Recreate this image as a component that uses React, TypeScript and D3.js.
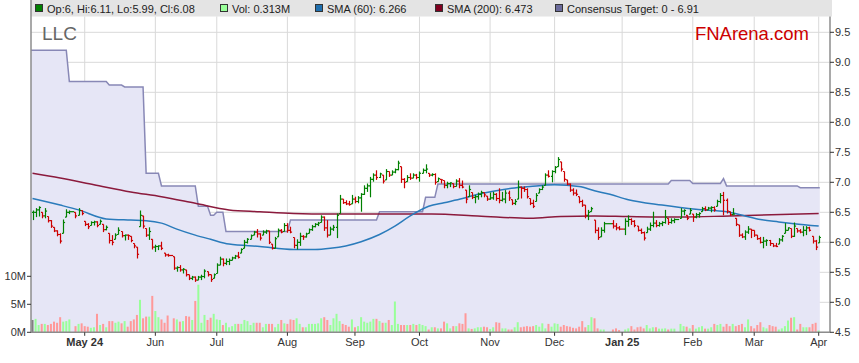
import * as d3 from 'd3';

// calendar: weekdays from first to last session, minus ASX holidays
const firstDay = new Date(2024, 3, 8);
const lastDay = new Date(2025, 3, 1);
const holidays = ['2024-04-25', '2024-06-10', '2024-12-25', '2024-12-26', '2025-01-01', '2025-01-27'];

// daily bars, one entry per trading session (Apr 2024 .. Apr 1 2025)
const highs = [
  // Apr
  6.53, 6.57, 6.6, 6.5, 6.57, 6.43, 6.37, 6.25, 6.2, 6.15, 6.38, 6.55, 6.53, 6.5, 6.57, 6.53,
  // May
  6.35, 6.32, 6.35, 6.36, 6.35, 6.38, 6.3, 6.28, 6.15, 6.12, 6.15, 6.25, 6.18, 6.13, 6.13, 6.1, 5.98, 5.92, 6.53, 6.44, 6.23, 6.25, 6.05,
  // Jun
  5.96, 5.95, 6.01, 5.82, 5.81, 5.76, 5.6, 5.62, 5.57, 5.54, 5.46, 5.44, 5.43, 5.44, 5.46, 5.55, 5.51, 5.46, 5.48,
  // Jul
  5.65, 5.76, 5.73, 5.73, 5.73, 5.76, 5.79, 5.84, 5.9, 6.04, 6.07, 6.13, 6.19, 6.22, 6.15, 6.2, 6.21, 6.19, 5.97, 6.09, 6.23, 6.22, 6.32,
  // Aug
  6.32, 6.26, 6.08, 6.05, 6.16, 6.12, 6.16, 6.23, 6.29, 6.32, 6.34, 6.45, 6.43, 6.37, 6.26, 6.29, 6.48, 6.79, 6.72, 6.7, 6.69, 6.79,
  // Sep
  6.76, 6.77, 6.82, 6.95, 6.98, 7.09, 7.15, 7.2, 7.16, 7.12, 7.22, 7.18, 7.2, 7.23, 7.36, 7.26, 7.07, 7.12, 7.15, 7.15, 7.14,
  // Oct
  7.18, 7.23, 7.3, 7.15, 7.15, 7.15, 7.08, 7.05, 7.03, 7.01, 7.0, 6.98, 7.05, 7.07, 7.03, 6.87, 6.95, 6.83, 6.79, 6.83, 6.86, 6.83, 6.77,
  // Nov
  6.83, 6.84, 6.82, 6.9, 6.84, 6.87, 6.86, 6.71, 6.72, 7.03, 6.93, 6.93, 6.9, 6.73, 6.71, 6.82, 6.9, 6.95, 7.15, 7.2, 7.2,
  // Dec
  7.27, 7.42, 7.34, 7.18, 7.04, 6.98, 6.9, 6.88, 6.76, 6.71, 6.62, 6.54, 6.59, 6.37, 6.25, 6.25, 6.34, 6.37, 6.32, 6.27,
  // Jan
  6.4, 6.45, 6.4, 6.37, 6.27, 6.23, 6.18, 6.26, 6.33, 6.51, 6.37, 6.34, 6.35, 6.54, 6.4, 6.4, 6.4, 6.57, 6.55, 6.45, 6.57,
  // Feb
  6.47, 6.49, 6.5, 6.59, 6.6, 6.59, 6.6, 6.6, 6.71, 6.82, 6.84, 6.73, 6.51, 6.57, 6.4, 6.29, 6.15, 6.2, 6.27, 6.22,
  // Mar
  6.2, 6.12, 6.09, 6.09, 6.05, 6.04, 5.98, 5.99, 6.07, 6.12, 6.32, 6.25, 6.23, 6.33, 6.23, 6.22, 6.27, 6.27, 6.26, 6.1, 6.04,
  // Apr
  6.11,
];

const lows = [
  6.37, 6.42, 6.43, 6.4, 6.4, 6.33, 6.24, 6.17, 6.1, 5.98, 6.15, 6.42, 6.47, 6.4, 6.45, 6.45,
  6.27, 6.22, 6.28, 6.28, 6.25, 6.3, 6.17, 6.2, 5.98, 5.95, 6.05, 6.13, 6.08, 6.03, 6.04, 6.0, 5.9, 5.73, 6.26, 6.23, 6.09, 6.04, 5.88,
  5.84, 5.87, 5.87, 5.76, 5.76, 5.54, 5.51, 5.51, 5.48, 5.43, 5.37, 5.37, 5.34, 5.37, 5.37, 5.4, 5.43, 5.34, 5.4,
  5.48, 5.62, 5.6, 5.62, 5.62, 5.7, 5.72, 5.73, 5.82, 5.9, 5.98, 6.05, 6.12, 6.08, 6.03, 6.12, 6.14, 5.97, 5.88, 5.9, 6.09, 6.15, 6.18,
  6.16, 6.15, 5.9, 5.88, 5.94, 6.04, 6.08, 6.15, 6.19, 6.25, 6.27, 6.33, 6.19, 6.08, 6.12, 6.19, 6.07, 6.48, 6.64, 6.62, 6.61, 6.64,
  6.65, 6.65, 6.51, 6.79, 6.84, 6.75, 7.01, 7.04, 7.07, 6.98, 7.04, 7.09, 7.12, 7.15, 7.2, 6.99, 6.9, 7.01, 7.04, 7.07, 7.05,
  7.01, 7.15, 7.15, 7.09, 7.1, 6.96, 7.01, 6.98, 6.9, 6.9, 6.92, 6.9, 6.93, 6.9, 6.9, 6.65, 6.76, 6.72, 6.65, 6.71, 6.75, 6.75, 6.69,
  6.71, 6.71, 6.69, 6.65, 6.68, 6.65, 6.69, 6.62, 6.62, 6.72, 6.73, 6.84, 6.73, 6.62, 6.57, 6.68, 6.82, 6.87, 6.95, 7.08, 7.0,
  7.15, 7.26, 7.18, 7.01, 6.95, 6.84, 6.78, 6.77, 6.65, 6.59, 6.4, 6.37, 6.51, 6.15, 6.04, 6.09, 6.16, 6.23, 6.2, 6.2,
  6.12, 6.26, 6.29, 6.25, 6.18, 6.14, 6.03, 6.16, 6.19, 6.25, 6.25, 6.26, 6.27, 6.31, 6.29, 6.31, 6.32, 6.4, 6.45, 6.37, 6.47,
  6.34, 6.4, 6.41, 6.51, 6.52, 6.54, 6.5, 6.51, 6.6, 6.65, 6.45, 6.48, 6.44, 6.46, 6.27, 6.09, 6.07, 6.04, 6.14, 6.07,
  6.09, 6.04, 5.98, 5.9, 5.94, 5.94, 5.92, 5.92, 5.97, 6.01, 6.15, 6.2, 6.07, 6.09, 6.16, 6.15, 6.1, 6.12, 6.18, 5.98, 5.87,
  5.99,
];

const closes = [
  6.5, 6.54, 6.58, 6.44, 6.52, 6.36, 6.27, 6.19, 6.13, 6.02, 6.33, 6.5, 6.51, 6.44, 6.53, 6.48,
  6.3, 6.26, 6.33, 6.34, 6.28, 6.35, 6.21, 6.25, 6.03, 6.0, 6.12, 6.2, 6.11, 6.12, 6.11, 6.03, 5.94, 5.8, 6.45, 6.27, 6.12, 6.18, 5.92,
  5.93, 5.94, 5.9, 5.79, 5.78, 5.57, 5.58, 5.54, 5.55, 5.46, 5.4, 5.42, 5.37, 5.42, 5.43, 5.52, 5.46, 5.38, 5.46,
  5.62, 5.72, 5.65, 5.68, 5.7, 5.74, 5.77, 5.75, 5.88, 6.0, 6.05, 6.11, 6.17, 6.14, 6.07, 6.17, 6.19, 6.0, 5.9, 6.06, 6.2, 6.17, 6.28,
  6.2, 6.17, 5.95, 6.0, 6.1, 6.09, 6.14, 6.21, 6.26, 6.3, 6.32, 6.42, 6.24, 6.12, 6.22, 6.25, 6.45, 6.72, 6.66, 6.64, 6.63, 6.72,
  6.68, 6.74, 6.8, 6.9, 6.94, 7.05, 7.12, 7.08, 7.14, 7.02, 7.18, 7.12, 7.17, 7.21, 7.32, 7.05, 7.0, 7.08, 7.07, 7.12, 7.08,
  7.15, 7.2, 7.22, 7.12, 7.13, 7.0, 7.06, 7.04, 6.95, 6.98, 6.99, 6.93, 7.02, 6.95, 6.92, 6.72, 6.88, 6.75, 6.76, 6.8, 6.83, 6.79, 6.72,
  6.74, 6.8, 6.73, 6.7, 6.72, 6.82, 6.74, 6.65, 6.68, 6.92, 6.9, 6.88, 6.76, 6.65, 6.6, 6.78, 6.88, 6.92, 7.12, 7.1, 7.18,
  7.25, 7.38, 7.22, 7.05, 6.97, 6.87, 6.82, 6.8, 6.68, 6.62, 6.45, 6.5, 6.56, 6.2, 6.08, 6.2, 6.31, 6.27, 6.24, 6.22,
  6.35, 6.38, 6.35, 6.28, 6.2, 6.16, 6.07, 6.22, 6.28, 6.32, 6.28, 6.31, 6.33, 6.42, 6.33, 6.36, 6.38, 6.52, 6.53, 6.4, 6.53,
  6.42, 6.46, 6.48, 6.56, 6.54, 6.57, 6.58, 6.54, 6.68, 6.78, 6.7, 6.52, 6.46, 6.47, 6.3, 6.12, 6.09, 6.17, 6.22, 6.2,
  6.12, 6.06, 6.0, 6.02, 6.03, 5.98, 5.94, 5.93, 6.04, 6.1, 6.2, 6.24, 6.1, 6.27, 6.19, 6.17, 6.2, 6.24, 6.2, 6.02, 5.92,
  6.08,
];

// volume in millions of shares
const volumes = [
  2.2, 2.4, 1.3, 1.5, 1.5, 1.3, 1.5, 1.9, 1.7, 2.7, 1.9, 2.0, 2.3, 1.1, 1.5, 1.6,
  1.1, 1.0, 0.8, 0.9, 3.3, 1.3, 1.5, 0.9, 2.0, 2.0, 1.7, 1.9, 1.6, 2.0, 1.0, 2.0, 2.3, 3.1, 5.8, 2.5, 2.8, 2.8, 6.5,
  3.8, 2.7, 2.3, 1.7, 3.0, 2.5, 2.3, 1.9, 2.0, 2.9, 2.8, 2.2, 5.6, 8.5, 1.7, 3.1, 2.2, 2.6, 3.3,
  2.3, 2.2, 1.3, 1.7, 0.9, 1.1, 1.5, 1.5, 1.5, 2.2, 2.0, 1.3, 1.7, 1.7, 1.7, 0.9, 1.5, 1.5, 1.5, 0.9, 1.5, 2.2, 1.6,
  1.5, 2.3, 2.2, 2.5, 1.5, 0.9, 0.9, 1.5, 1.5, 1.5, 1.6, 2.5, 2.7, 2.2, 1.3, 2.5, 3.3, 2.0, 1.5, 1.3, 1.0, 2.3,
  0.9, 1.1, 2.7, 1.9, 1.7, 1.9, 2.4, 2.4, 2.0, 1.7, 1.7, 2.2, 1.3, 5.5, 1.5, 1.3, 1.3, 1.3, 1.3, 1.5, 1.3,
  1.5, 1.3, 1.1, 0.5, 0.9, 0.9, 0.7, 0.7, 1.9, 1.6, 0.7, 1.1, 1.1, 1.6, 1.5, 3.4, 0.7, 0.6, 0.7, 0.9, 0.9, 1.0, 0.9,
  0.6, 0.9, 1.8, 1.7, 0.7, 0.7, 0.5, 0.5, 0.9, 1.8, 0.9, 1.0, 1.1, 1.0, 1.1, 1.3, 1.0, 1.6, 0.7, 1.5, 1.0,
  1.6, 1.5, 1.0, 1.3, 1.1, 1.0, 0.8, 0.7, 1.0, 2.0, 0.9, 1.3, 2.7, 2.5, 0.7, 0.5, 0.5, 0.5, 0.7, 0.4,
  0.5, 0.7, 1.1, 0.5, 0.9, 1.0, 0.7, 1.3, 0.7, 0.9, 0.9, 0.65, 0.65, 0.7, 0.5, 0.65, 0.65, 1.5, 1.1, 1.0, 0.7,
  1.3, 0.65, 0.9, 1.1, 0.65, 0.65, 0.9, 1.5, 1.3, 1.5, 1.0, 1.5, 1.1, 1.5, 1.1, 1.3, 1.5, 0.9, 2.3, 1.1,
  0.7, 1.3, 1.8, 0.9, 0.7, 1.3, 1.1, 1.0, 0.5, 0.7, 1.1, 2.1, 2.6, 2.7, 0.5, 1.5, 0.9, 0.9, 0.9, 1.5, 1.7,
  0.313,
];

// moving averages, keyed by weekday number from the first day
const sma60Days = [0, 9, 15, 24, 32, 37, 42, 47, 53, 58, 64, 74, 85, 92, 97, 102, 107, 113, 118, 123, 129, 134, 140, 145, 151, 156, 162, 170, 178, 183, 188, 194, 205, 216, 226, 232, 237, 243, 248, 256];
const sma60Values = [6.73, 6.62, 6.54, 6.39, 6.37, 6.36, 6.32, 6.22, 6.12, 6.05, 5.97, 5.93, 5.88, 5.88, 5.9, 5.94, 6.01, 6.13, 6.27, 6.44, 6.6, 6.66, 6.73, 6.8, 6.86, 6.9, 6.93, 6.96, 6.93, 6.86, 6.8, 6.71, 6.62, 6.55, 6.51, 6.44, 6.38, 6.34, 6.31, 6.27];
const sma200Days = [0, 9, 20, 32, 42, 53, 64, 74, 85, 97, 130, 145, 162, 172, 183, 194, 211, 227, 256];
const sma200Values = [7.15, 7.07, 6.96, 6.84, 6.76, 6.65, 6.54, 6.51, 6.48, 6.47, 6.47, 6.44, 6.4, 6.43, 6.44, 6.43, 6.42, 6.44, 6.48];

// consensus target: value in force from each weekday number onwards
const targetDays = [0, 12, 25, 30, 37, 42, 54, 58, 60, 63, 84, 113, 128, 132, 208, 215, 225, 226, 250];
const targetValues = [9.2, 8.68, 8.62, 8.59, 7.15, 6.94, 6.6, 6.45, 6.5, 6.18, 6.37, 6.51, 6.75, 6.97, 7.03, 6.98, 7.06, 6.94, 6.91];

const legendItems = [
  { color: '#008000', label: 'Op:6, Hi:6.11, Lo:5.99, Cl:6.08' },
  { color: '#99ff99', label: 'Vol: 0.313M' },
  { color: '#1f6fae', label: 'SMA (60): 6.266' },
  { color: '#800020', label: 'SMA (200): 6.473' },
  { color: '#6b6b9c', label: 'Consensus Target: 0 - 6.91' },
];
const legendX = [35, 220, 315, 435, 555];

const volumeTicks = [0, 5, 10];

const FONT = '"Liberation Sans", Arial, Helvetica, sans-serif';

const App = () => {
  const left = 31;
  const right = 830;
  const top = 16.5;
  const bottom = 332.3;

  const fmt = d3.timeFormat('%Y-%m-%d');
  const weekdays = d3
    .timeDay.range(firstDay, d3.timeDay.offset(lastDay, 1))
    .filter((d) => d.getDay() !== 0 && d.getDay() !== 6);
  const sessions = weekdays
    .map((d, i) => ({ d, i }))
    .filter((s) => !holidays.includes(fmt(s.d)));

  const x = d3.scaleLinear().domain([0, weekdays.length - 1]).range([32.5, 818.7]);
  const y = d3.scaleLinear().domain([4.5, 9.5]).range([bottom, 32.3]);
  const yVol = d3.scaleLinear().domain([0, 10]).range([bottom, 276.3]);
  const priceTicks = y.ticks(10);

  const bars = sessions.map((s, k) => {
    const h = highs[k];
    const l = lows[k];
    const c = closes[k];
    const prev = k > 0 ? closes[k - 1] : c;
    const o = Math.min(h, Math.max(l, prev));
    const next = sessions[k + 1];
    return {
      i: s.i,
      h,
      l,
      c,
      o,
      v: volumes[k],
      up: c >= o,
      change: c - prev,
      rt: next ? x(next.i) - x(s.i) - 1.5 : 1.5,
    };
  });

  const monthTicks = weekdays
    .map((d, i) => ({ d, i }))
    .filter((t) => t.i > 0 && t.d.getMonth() !== weekdays[t.i - 1].getMonth());

  const targetAt = (i: number) => targetValues[d3.bisectRight(targetDays, i) - 1];
  const targetPts = [
    { i: -0.5, v: targetAt(0) },
    ...sessions.map((s) => ({ i: s.i, v: targetAt(s.i) })),
    { i: weekdays.length - 1 + 0.35, v: targetAt(weekdays.length - 1) },
  ];
  const targetArea = d3
    .area<{ i: number; v: number }>()
    .x((d) => x(d.i))
    .y0(bottom)
    .y1((d) => y(d.v));
  const targetLine = d3
    .line<{ i: number; v: number }>()
    .x((d) => x(d.i))
    .y((d) => y(d.v));

  const smaLine = (days: number[]) =>
    d3
      .line<number>()
      .x((_, k) => x(days[k]))
      .y((d) => y(d))
      .curve(d3.curveMonotoneX);

  return (
    <svg
      width={859}
      height={363}
      style={{ position: 'absolute', left: 0, top: 0, background: '#fff' }}
      fontFamily={FONT}
    >
      {/* legend bar */}
      <rect x={left} y={0} width={801} height={top} fill="#e4e4e4" />
      {legendItems.map((it, k) => (
        <g key={it.label} transform={`translate(${legendX[k]},0)`}>
          <rect x={0.5} y={4.5} width={7} height={7} fill={it.color} stroke="#333" strokeWidth={1} />
          <text x={12} y={12.5} fontSize={11} fill="#222">
            {it.label}
          </text>
        </g>
      ))}

      {/* grid */}
      {priceTicks.map((t) => (
        <line key={t} x1={left} x2={right} y1={y(t)} y2={y(t)} stroke="#d9d9d9" />
      ))}
      {monthTicks.map((t) => (
        <line key={t.i} x1={x(t.i)} x2={x(t.i)} y1={top} y2={bottom} stroke="#d9d9d9" />
      ))}

      {/* consensus target */}
      <path d={targetArea(targetPts) ?? ''} fill="#e6e6f6" />
      <path d={targetLine(targetPts) ?? ''} fill="none" stroke="#8888b6" strokeWidth={1.5} />

      {/* moving averages */}
      <path d={smaLine(sma200Days)(sma200Values) ?? ''} fill="none" stroke="#8b1a3c" strokeWidth={1.5} />
      <path d={smaLine(sma60Days)(sma60Values) ?? ''} fill="none" stroke="#2a7bbb" strokeWidth={1.5} />

      {/* volume */}
      {bars.map((b) => (
        <rect
          key={`v${b.i}`}
          x={x(b.i) - 1}
          y={yVol(b.v)}
          width={2}
          height={bottom - yVol(b.v)}
          fill={Math.abs(b.change) < 0.005 ? '#808080' : b.change > 0 ? '#99ff99' : '#ff9999'}
        />
      ))}

      {/* OHLC bars */}
      {bars.map((b) => {
        const cx = Math.round(x(b.i)) + 0.5;
        const col = b.up ? '#008000' : '#cc0000';
        return (
          <g key={`b${b.i}`} stroke={col} strokeWidth={1.2}>
            <line x1={cx} x2={cx} y1={y(b.h)} y2={y(b.l)} />
            <line x1={cx - 1.5} x2={cx} y1={y(b.o)} y2={y(b.o)} />
            <line x1={cx} x2={cx + b.rt} y1={y(b.c)} y2={y(b.c)} />
          </g>
        );
      })}

      {/* axes */}
      <line x1={left} x2={left} y1={0} y2={bottom} stroke="#8c8c8c" strokeWidth={1.5} />
      <line x1={right} x2={right} y1={top} y2={bottom} stroke="#8c8c8c" strokeWidth={1.5} />
      <line x1={left} x2={right} y1={bottom} y2={bottom} stroke="#8c8c8c" strokeWidth={1.5} />

      {priceTicks.map((t) => (
        <g key={`pt${t}`}>
          <line x1={right} x2={right + 4} y1={y(t)} y2={y(t)} stroke="#333" />
          <text x={right + 5} y={y(t)} dy="0.35em" fontSize={11} fill="#333">
            {d3.format('.1f')(t)}
          </text>
        </g>
      ))}

      {volumeTicks.map((t) => (
        <g key={`vt${t}`}>
          <line x1={left - 4} x2={left} y1={yVol(t)} y2={yVol(t)} stroke="#333" />
          <text x={left - 5} y={yVol(t)} dy="0.35em" fontSize={11} fill="#333" textAnchor="end">
            {`${t}M`}
          </text>
        </g>
      ))}

      {monthTicks.map((t, k) => {
        const withYear = k === 0 || t.d.getMonth() === 0;
        return (
          <g key={`mt${t.i}`}>
            <line x1={x(t.i)} x2={x(t.i)} y1={bottom} y2={bottom + 3.5} stroke="#333" />
            <text
              x={x(t.i)}
              y={345.5}
              fontSize={11}
              textAnchor="middle"
              fill="#333"
              fontWeight={withYear ? 'bold' : 'normal'}
            >
              {d3.timeFormat(withYear ? '%b %y' : '%b')(t.d)}
            </text>
          </g>
        );
      })}

      <text x={42} y={40} fontSize={19} fill="#666">
        LLC
      </text>
      <text x={809} y={40} fontSize={18.5} fill="#cc0000" textAnchor="end">
        FNArena.com
      </text>
    </svg>
  );
};

export default App;
